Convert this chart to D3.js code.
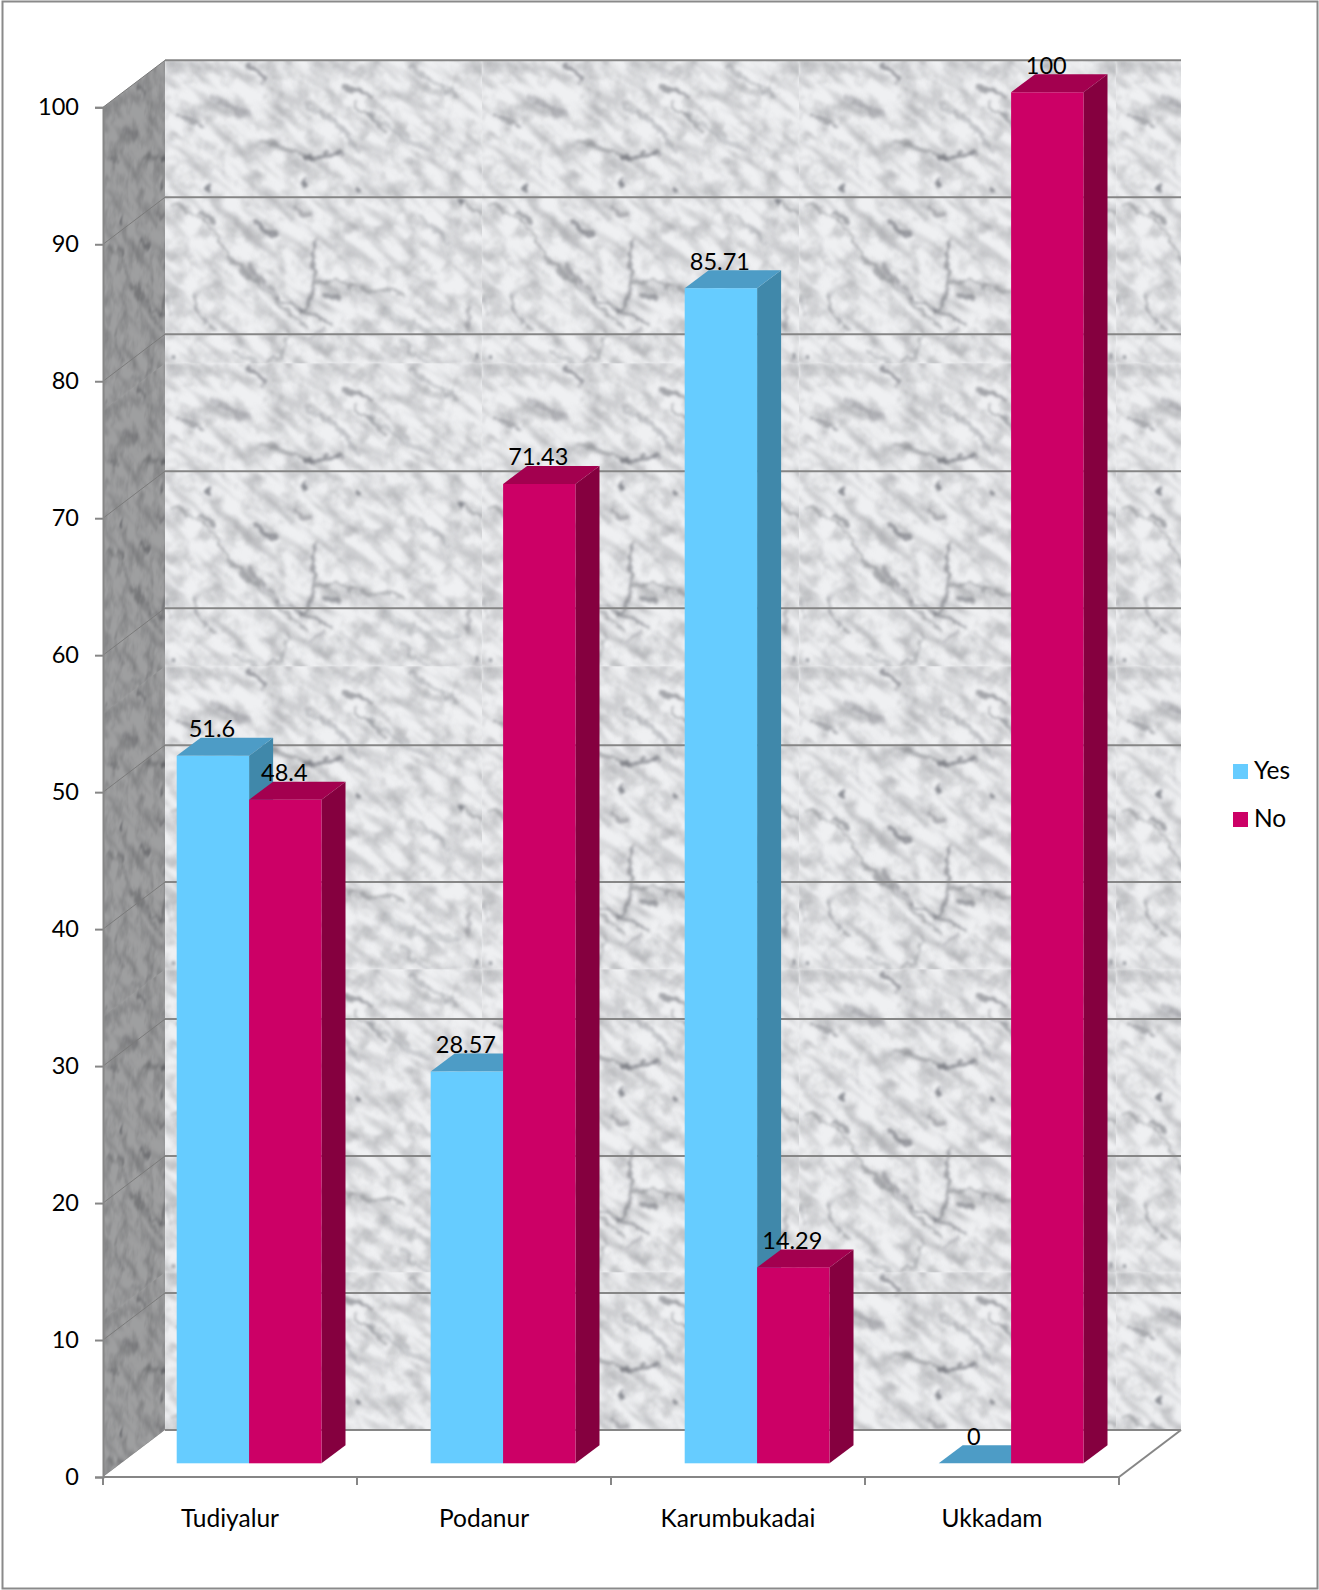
<!DOCTYPE html>
<html>
<head>
<meta charset="utf-8">
<script src="https://cdn.jsdelivr.net/npm/d3@7/dist/d3.min.js"></script>
<style>
  html, body { margin: 0; padding: 0; background: #fff; }
  svg { display: block; }
  text { font-family: Lato, "Open Sans", sans-serif; fill: #000; }
</style>
</head>
<body>
<script>
// Chart values
const categories = ["Tudiyalur", "Podanur", "Karumbukadai", "Ukkadam"];
const yesValues = [51.6, 28.57, 85.71, 0];
const noValues = [48.4, 71.43, 14.29, 100];
const seriesNames = ["Yes", "No"];
const yTickValues = [0, 10, 20, 30, 40, 50, 60, 70, 80, 90, 100];

// Vein strokes of the wall stone, in tile coordinates: [path, width, opacity]
const veins = [
  ["M84,3 L92,9 L100,19", 5, .6], ["M13,55 L36,65", 4, .45], ["M50,38 L82,56", 5, .3],
  ["M97,80 L128,92 L146,97", 4, .4], ["M142,98 L160,94 L176,94", 4.5, .6],
  ["M180,28 L196,32 L206,36", 4.5, .55], ["M140,44 L170,60 L192,88", 5, .26],
  ["M190,42 L208,58 L222,72", 3.5, .4], ["M205,54 L240,76 L262,90", 5, .26],
  ["M248,8 L280,30 L296,34", 4, .28], ["M10,143 L30,156 L48,170 L70,204 L100,230 L140,268", 3, .4],
  ["M90,162 L100,172 L112,174", 6, .6], ["M36,152 L48,160", 6, .45], ["M130,150 L145,155", 6, .35],
  ["M150,180 L147,200 L150,222 L142,246 L136,252", 3.5, .55],
  ["M150,222 L172,220 L190,228 L240,232", 3, .4], ["M112,238 L140,250 L166,264", 3.5, .5],
  ["M28,236 L36,256 L50,270", 3, .42], ["M82,205 L114,238", 4, .34], ["M160,236 L172,240", 6, .5],
  ["M125,272 L114,296 L102,303", 2.5, .36], ["M300,140 L317,156", 3.5, .38], ["M304,246 L302,268", 4, .34],
  ["M255,156 L285,182", 4, .26], ["M220,250 L250,268 L290,272", 7, .18], ["M236,280 L262,303", 4, .24],
  ["M145,278 L160,268", 3, .32], ["M70,292 L95,303", 4, .28], ["M0,235 L6,255", 3, .28]
];
const speckles = [[7, 297, 2.6], [312, 297, 2.6], [295, 142, 3.4], [192, 127, 2.6], [43, 128, 4], [138, 125, 3.4]];

const width = 1319, height = 1590;

// Plot geometry: front plane of the box, and its depth towards the back wall
const frontLeft = 103, frontRight = 1119, frontBottom = 1477, frontTop = 107.3;
const wallDx = 62, wallDy = 47;
const barDx = 24, barDy = 18;
const barFloor = 1463.3, barCeil = 92.3;
const barInset = 73.7, barWidth = 72.4;

const x = d3.scaleBand().domain(categories).range([frontLeft, frontRight]);
const y = d3.scaleLinear().domain([0, 100]).range([frontBottom, frontTop]);
const wallY = d3.scaleLinear().domain([0, 100]).range([frontBottom - wallDy, frontTop - wallDy]);
const barY = d3.scaleLinear().domain([0, 100]).range([barFloor, barCeil]);
const color = d3.scaleOrdinal().domain(seriesNames).range(["#66ccff", "#cc0066"]);
const topColor = d3.scaleOrdinal().domain(seriesNames).range(["#4d9cc6", "#a3004f"]);
const sideColor = d3.scaleOrdinal().domain(seriesNames).range(["#4088aa", "#85003f"]);

const svg = d3.select("body").append("svg").attr("width", width).attr("height", height);
const defs = svg.append("defs");

// Stone grain: diagonal streaks plus a soft mottling, both from noise
function noiseFilter(id, freq, octaves, seed, gain, offset, blur) {
  const f = defs.append("filter").attr("id", id)
    .attr("x", 0).attr("y", 0).attr("width", 1).attr("height", 1)
    .attr("color-interpolation-filters", "sRGB");
  f.append("feTurbulence").attr("type", "fractalNoise")
    .attr("baseFrequency", freq).attr("numOctaves", octaves).attr("seed", seed);
  f.append("feColorMatrix").attr("type", "matrix")
    .attr("values", `0 0 0 0 .58  0 0 0 0 .585  0 0 0 0 .6  ${gain} 0 0 0 ${offset}`);
  f.append("feGaussianBlur").attr("stdDeviation", blur);
}
noiseFilter("streaks", "0.022 0.1", 4, 11, 1.25, -0.58, 1.4);
noiseFilter("mottle", "0.05", 4, 5, 1.2, -0.52, 1.2);

// Roughens the vein strokes so they read as broken, cloudy lines
const soft = defs.append("filter").attr("id", "soft")
  .attr("x", "-10%").attr("y", "-10%").attr("width", "120%").attr("height", "120%")
  .attr("color-interpolation-filters", "sRGB");
soft.append("feTurbulence").attr("type", "fractalNoise")
  .attr("baseFrequency", 0.09).attr("numOctaves", 3).attr("seed", 3).attr("result", "warp");
soft.append("feDisplacementMap").attr("in", "SourceGraphic").attr("in2", "warp")
  .attr("scale", 12).attr("xChannelSelector", "R").attr("yChannelSelector", "G");
soft.append("feGaussianBlur").attr("stdDeviation", 1.6);

const tileW = 317, tileH = 303;
const tile = defs.append("pattern").attr("id", "stone")
  .attr("patternUnits", "userSpaceOnUse")
  .attr("x", frontLeft + wallDx).attr("y", frontTop - wallDy)
  .attr("width", tileW).attr("height", tileH);
tile.append("rect").attr("width", tileW).attr("height", tileH).attr("fill", "#eff0f2");
tile.append("rect").attr("width", tileW).attr("height", tileH).attr("filter", "url(#mottle)");
tile.append("g").attr("transform", `rotate(38 ${tileW / 2} ${tileH / 2})`)
  .append("rect").attr("x", -150).attr("y", -150).attr("width", 620).attr("height", 620)
  .attr("filter", "url(#streaks)");
const veinLayer = tile.append("g").attr("filter", "url(#soft)");
veinLayer.selectAll("path").data(veins).join("path")
  .attr("d", d => d[0]).attr("fill", "none")
  .attr("stroke", "#66686f").attr("stroke-linecap", "round")
  .attr("stroke-width", d => d[1]).attr("stroke-opacity", d => d[2]);
veinLayer.selectAll("circle").data(speckles).join("circle")
  .attr("cx", d => d[0]).attr("cy", d => d[1]).attr("r", d => d[2])
  .attr("fill", "#63656d").attr("opacity", .7);

// The same stone squeezed and sheared onto the side wall
defs.append("pattern").attr("id", "stoneSide")
  .attr("href", "#stone")
  .attr("patternTransform", `translate(${frontLeft} ${frontTop}) matrix(0.42 ${-wallDy / wallDx * 0.42} 0 1 0 0)`)
  .attr("x", 0).attr("y", 0);

// Outer frame
svg.append("rect").attr("x", 2.5).attr("y", 1.5).attr("width", 1315).attr("height", 1587)
  .attr("fill", "#fff").attr("stroke", "#8a8a8a").attr("stroke-width", 2);

// Back wall
const wallX = frontLeft + wallDx, wallRight = frontRight + wallDx;
svg.append("rect").attr("x", wallX).attr("y", wallY(100))
  .attr("width", wallRight - wallX).attr("height", wallY(0) - wallY(100))
  .attr("fill", "url(#stone)");

// Side wall
const sideOutline = d3.line()([[frontLeft, y(0)], [frontLeft, y(100)], [wallX, wallY(100)], [wallX, wallY(0)]]) + "Z";
svg.append("path").attr("d", sideOutline).attr("fill", "url(#stoneSide)");
svg.append("path").attr("d", sideOutline).attr("fill", "#3f4040").attr("fill-opacity", .46);

// Grid lines along the back wall and across the side wall
svg.append("g").selectAll("line").data(yTickValues).join("line")
  .attr("x1", wallX).attr("x2", wallRight)
  .attr("y1", d => wallY(d)).attr("y2", d => wallY(d))
  .attr("stroke", "#868686").attr("stroke-width", 2);
svg.append("g").selectAll("line").data(yTickValues).join("line")
  .attr("x1", frontLeft).attr("x2", wallX)
  .attr("y1", d => y(d)).attr("y2", d => wallY(d))
  .attr("stroke", "#7b7b7b").attr("stroke-width", 1);

// Floor
svg.append("path")
  .attr("d", d3.line()([[frontLeft, y(0)], [wallX, wallY(0)], [wallRight, wallY(0)], [frontRight, y(0)]]) + "Z")
  .attr("fill", "#fff");
svg.append("line").attr("x1", wallX).attr("x2", wallRight)
  .attr("y1", wallY(0)).attr("y2", wallY(0)).attr("stroke", "#868686").attr("stroke-width", 2);
svg.append("line").attr("x1", frontRight).attr("x2", wallRight)
  .attr("y1", y(0)).attr("y2", wallY(0)).attr("stroke", "#868686").attr("stroke-width", 2);

// Axes
const yAxis = svg.append("g").attr("transform", `translate(${frontLeft},0)`)
  .call(d3.axisLeft(y).tickValues(yTickValues).tickSize(8).tickPadding(16));
const xAxis = svg.append("g").attr("transform", `translate(0,${frontBottom})`)
  .call(d3.axisBottom(x).tickSize(0).tickPadding(33));
[yAxis, xAxis].forEach(a => {
  a.selectAll(".domain").attr("stroke", "#868686").attr("stroke-width", 2).attr("fill", "none");
  a.selectAll("line").attr("stroke", "#868686").attr("stroke-width", 2);
  a.selectAll("text").attr("font-family", "Lato").attr("fill", "#000");
});
yAxis.selectAll("text").attr("font-size", 23.5);
xAxis.selectAll("text").attr("font-size", 24.5);
xAxis.select(".domain").attr("d", `M${frontLeft},0H${frontRight}`);
xAxis.selectAll(".edge").data(d3.range(categories.length + 1)).join("line")
  .attr("class", "edge")
  .attr("x1", i => frontLeft + i * x.step()).attr("x2", i => frontLeft + i * x.step())
  .attr("y1", 0).attr("y2", 8).attr("stroke", "#868686").attr("stroke-width", 2);

// Bars, each with a front, side and top face
const rows = categories.flatMap((c, i) => [
  { category: c, series: "Yes", value: yesValues[i], left: x(c) + barInset },
  { category: c, series: "No", value: noValues[i], left: x(c) + barInset + barWidth }
]);
const bars = svg.append("g").selectAll("g").data(rows).join("g");
bars.filter(d => d.value > 0).append("path")
  .attr("fill", d => sideColor(d.series))
  .attr("d", d => {
    const r = d.left + barWidth;
    return d3.line()([[r, barY(0)], [r, barY(d.value)], [r + barDx, barY(d.value) - barDy], [r + barDx, barY(0) - barDy]]) + "Z";
  });
bars.append("path")
  .attr("fill", d => topColor(d.series))
  .attr("d", d => {
    const r = d.left + barWidth, t = barY(d.value);
    return d3.line()([[d.left, t], [r, t], [r + barDx, t - barDy], [d.left + barDx, t - barDy]]) + "Z";
  });
bars.filter(d => d.value > 0).append("rect")
  .attr("x", d => d.left).attr("y", d => barY(d.value))
  .attr("width", barWidth).attr("height", d => barY(0) - barY(d.value))
  .attr("fill", d => color(d.series));

// Value labels sit above the front edge of each bar
svg.append("g").selectAll("text").data(rows).join("text")
  .attr("x", d => d.left + barWidth / 2 - 1)
  .attr("y", d => barY(d.value) - 18.5)
  .attr("text-anchor", "middle").attr("font-size", 23.5)
  .text(d => d.value);

// Legend
const legend = svg.append("g").selectAll("g").data(seriesNames).join("g")
  .attr("transform", (d, i) => `translate(1233,${764 + i * 48})`);
legend.append("rect").attr("width", 15).attr("height", 15).attr("fill", d => color(d));
legend.append("text").attr("x", 21).attr("y", 15).attr("font-size", 24.5).text(d => d);
</script>
</body>
</html>
